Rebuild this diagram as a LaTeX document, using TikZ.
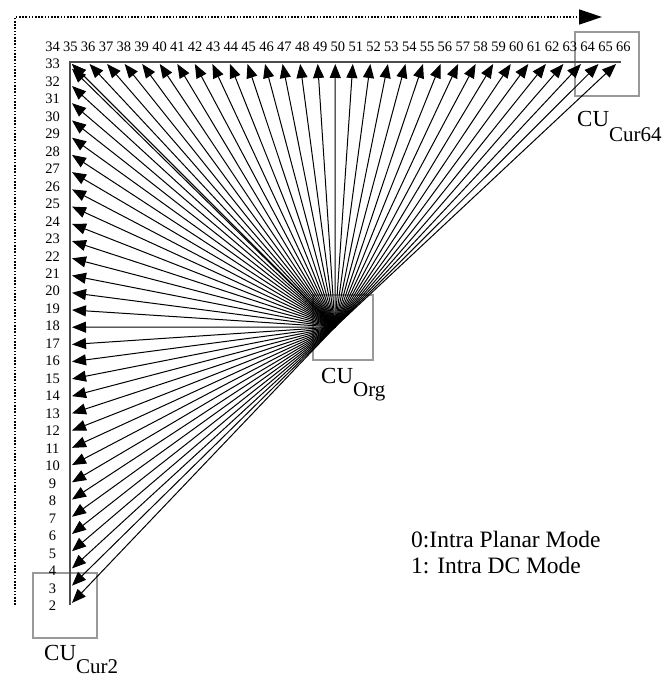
\documentclass[tikz,border=0pt]{standalone}
\usepackage{fontspec}
\setmainfont{Liberation Serif}
\usetikzlibrary{arrows.meta}
\tikzset{
  ray/.style={line width=1pt,-{Triangle[length=14pt,width=11pt]}},
  axisline/.style={draw=black!70,line width=1.6pt},
  cubox/.style={draw=black!40,line width=1.2pt},
  numlbl/.style={font=\fontsize{14.5}{14.5}\selectfont,inner sep=0pt},
  culbl/.style={font=\fontsize{23}{23}\selectfont,inner sep=0pt,anchor=base west},
  legend/.style={font=\fontsize{23.5}{23.5}\selectfont,inner sep=0pt,anchor=base west},
  dotline/.style={line width=1.4pt,dash pattern=on 1.6pt off 1.6pt,-{Triangle[length=23pt,width=15pt]}}
}
\begin{document}
\begin{tikzpicture}[x=1pt,y=-1pt]
\useasboundingbox (0,0) rectangle (664,679);
% dotted frame arrow
\coordinate (d1) at (15,605);
\coordinate (d2) at (15,17);
\coordinate (d3) at (602,17);
\draw[dotline] (d1) -- (d2) -- (d3);
% boxes
\draw[cubox] (313,295) rectangle (373,360);
\draw[cubox] (575,32) rectangle (639,96);
\draw[cubox] (33,573) rectangle (97,638);
% axes
\coordinate (corner) at (70,62);
\coordinate (ax1) at (621,62);
\coordinate (ax2) at (70,605);
\draw[axisline] (ax2) -- (corner) -- (ax1);
% origin
\coordinate (O) at (335,327);
% rays
\foreach \k in {2,...,33}{
  \coordinate (t\k) at (72,{86+(32-\k)*17.23});
  \draw[ray] (O) -- (t\k);
}
\coordinate (t34) at (72,64);
\draw[ray] (O) -- (t34);
\foreach \k in {35,...,66}{
  \coordinate (t\k) at ({72+(\k-35)*17.55},64);
  \draw[ray] (O) -- (t\k);
}
% labels
\foreach \k in {2,...,33}{
  \node[numlbl] (l\k) at (52.5,{64+(33-\k)*17.48}) {\k};
}
\foreach \k in {34,...,66}{
  \node[numlbl] (l\k) at ({52.5+(\k-34)*17.84},47) {\k};
}
% CU labels
\node[culbl] (cuorg) at (321,383) {CU\raisebox{-13pt}{\fontsize{21}{21}\selectfont Org}};
\node[culbl] (cu64) at (577,127) {CU\raisebox{-15pt}{\fontsize{21}{21}\selectfont Cur64}};
\node[culbl] (cu2) at (44,660) {CU\raisebox{-13pt}{\fontsize{21}{21}\selectfont Cur2}};
% legend
\node[legend] (lg0) at (411,547) {0:Intra Planar Mode};
\node[legend] (lg1) at (411,573) {1: Intra DC Mode};
\end{tikzpicture}
\end{document}
